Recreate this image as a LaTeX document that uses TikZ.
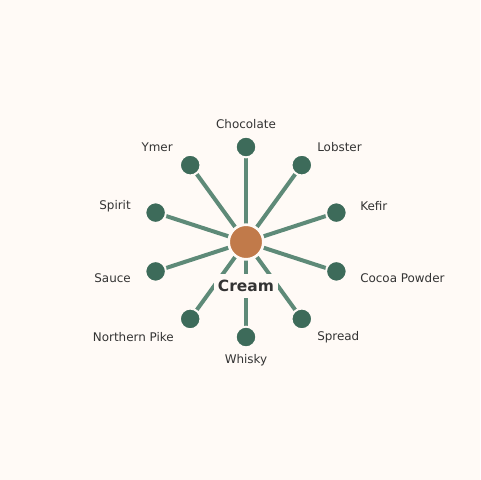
\documentclass[tikz,border=0pt]{standalone}
\usepackage{fontspec}
\setmainfont{DejaVu Sans}
\definecolor{bg}{HTML}{FFFAF6}
\definecolor{leaf}{HTML}{3D6B5A}
\definecolor{spoke}{HTML}{5E8A78}
\definecolor{hub}{HTML}{C17A4A}
\definecolor{txt}{HTML}{333333}
\begin{document}
\begin{tikzpicture}[x=0.75pt,y=-0.75pt,
  leafnode/.style={circle,fill=leaf,draw=bg,line width=1.5pt,minimum size=15.5pt,inner sep=0pt},
  hubnode/.style={circle,fill=hub,draw=bg,line width=2pt,minimum size=26pt,inner sep=0pt},
  spokeline/.style={draw=spoke,line width=3pt},
  lbl/.style={text=txt,font=\fontsize{8.95pt}{10.5pt}\selectfont,inner sep=0pt},
  hublbl/.style={text=txt,font=\fontsize{11.6pt}{13.5pt}\selectfont\bfseries,fill=bg,inner xsep=3pt,inner ysep=4.5pt}]
\useasboundingbox[fill=bg] (0,0) rectangle (480,480);
\node[hubnode] (c) at (246,242) {};
\node[leafnode] (cho) at (246,147) {};
\node[leafnode] (lob) at (301.8,165.1) {};
\node[leafnode] (kef) at (336.4,212.6) {};
\node[leafnode] (coc) at (336.4,271.4) {};
\node[leafnode] (spr) at (301.8,318.9) {};
\node[leafnode] (whi) at (246,337) {};
\node[leafnode] (nor) at (190.2,318.9) {};
\node[leafnode] (sau) at (155.6,271.4) {};
\node[leafnode] (spi) at (155.6,212.6) {};
\node[leafnode] (yme) at (190.2,165.1) {};
\foreach \n in {cho,lob,kef,coc,spr,whi,nor,sau,spi,yme}{
  \draw[spokeline] (c.center) -- (\n.center);
}
\node[hubnode] at (c) {};
\foreach \n in {cho,lob,kef,coc,spr,whi,nor,sau,spi,yme}{
  \node[leafnode] at (\n) {};
}
\node[hublbl] (lc) at (246,286) {Cream};
\node[lbl] (tcho) at (246,124) {Chocolate};
\node[lbl,anchor=west] (tlob) at (317,147) {Lobster};
\node[lbl,anchor=west] (tkef) at (360,206) {Kefir};
\node[lbl,anchor=west] (tcoc) at (360,278) {Cocoa Powder};
\node[lbl,anchor=west] (tspr) at (317,337) {Spread};
\node[lbl] (twhi) at (246,360) {Whisky};
\node[lbl,anchor=east] (tnor) at (174,337) {Northern Pike};
\node[lbl,anchor=east] (tsau) at (131,278) {Sauce};
\node[lbl,anchor=east] (tspi) at (131,206) {Spirit};
\node[lbl,anchor=east] (tyme) at (173,147) {Ymer};
\end{tikzpicture}
\end{document}
